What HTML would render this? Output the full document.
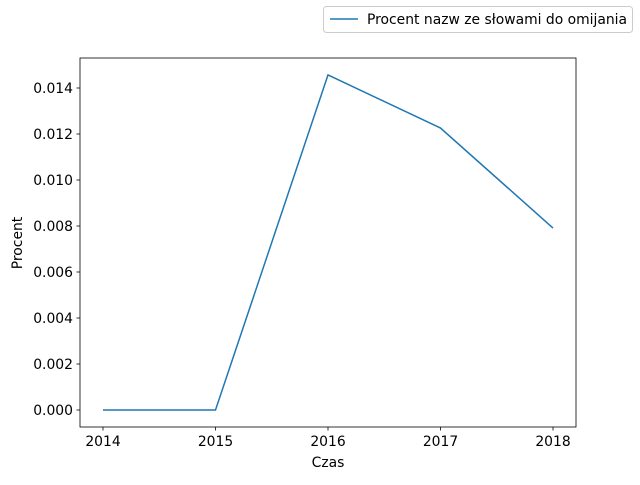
<!DOCTYPE html>
<html><head><meta charset="utf-8"><style>
body{margin:0;background:#fff;}
svg text{font-family:"DejaVu Sans","Liberation Sans",sans-serif;font-size:13.9px;fill:#000;}
</style></head><body>
<svg width="640" height="480">
<rect width="640" height="480" fill="#fff"/>
<g id="ticks"></g>
<polyline id="line" fill="none" stroke="#1f77b4" stroke-width="1.5"/>
<rect x="80" y="58" width="496" height="369" fill="none" stroke="#000" stroke-width="0.8"/>
<text x="328" y="467" text-anchor="middle">Czas</text>
<text transform="translate(22,243) rotate(-90)" text-anchor="middle">Procent</text>
<g>
<rect x="323.5" y="6.5" width="309" height="26" rx="3" fill="#fff" stroke="#ccc"/>
<line x1="330" y1="19" x2="358" y2="19" stroke="#1f77b4" stroke-width="1.5"/>
<text x="367" y="24">Procent nazw ze słowami do omijania</text>
</g>
</svg>
<script>
const years=[2014,2015,2016,2017,2018];
const values=[0,0,0.01457,0.01226,0.00791];
const yTicks=[0,0.002,0.004,0.006,0.008,0.010,0.012,0.014];
const yTickLabels=["0.000","0.002","0.004","0.006","0.008","0.010","0.012","0.014"];
function xs(v){return 103+(v-2014)*112.5;}
function ys(v){return 410-v*23000;}
const NS="http://www.w3.org/2000/svg";
const g=document.getElementById('ticks');
function mk(t,a){const e=document.createElementNS(NS,t);for(const k in a)e.setAttribute(k,a[k]);g.appendChild(e);return e;}
years.forEach(y=>{
 const l=mk('line',{x1:xs(y),x2:xs(y),y1:427,y2:430.5,stroke:'#000','stroke-width':0.8});
 
 
 const t=mk('text',{x:xs(y),y:446,'text-anchor':'middle'});t.textContent=y;
 
 
});
yTicks.forEach((v,i)=>{
 const l=mk('line',{x1:76.5,x2:80,y1:ys(v),y2:ys(v),stroke:'#000','stroke-width':0.8});
 
 
 const t=mk('text',{x:73,y:ys(v)+5,'text-anchor':'end'});t.textContent=yTickLabels[i];
 
 
});
document.getElementById('line').setAttribute('points',years.map((y,i)=>xs(y)+','+ys(values[i])).join(' '));
</script>
</body></html>
